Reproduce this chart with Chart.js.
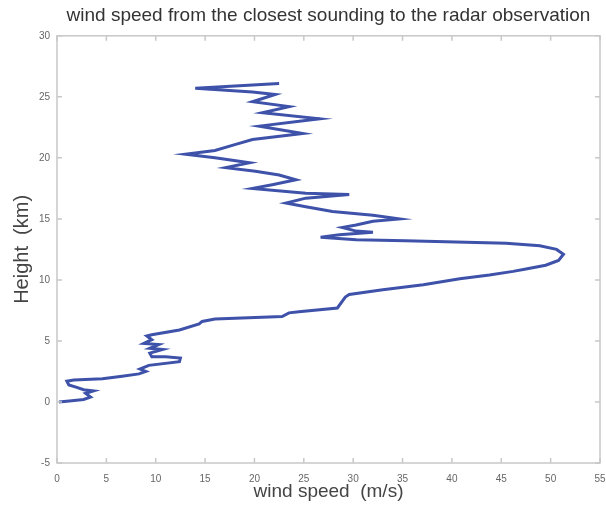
<!DOCTYPE html>
<html>
<head>
<meta charset="utf-8">
<script src="https://cdn.jsdelivr.net/npm/chart.js@4"></script>
<style>
  html, body { margin: 0; padding: 0; background: #fff; }
  #wrap { width: 606px; height: 510px; }
</style>
</head>
<body>
<div id="wrap"><canvas id="profile" width="606" height="510"></canvas></div>
<script>
// sounding profile: wind speed (m/s) against height (km)
const windSpeed = [0.2, 1.5, 2.7, 3.4, 2.9, 3.7, 2.7, 2.0, 1.2, 1.0, 1.7, 4.6, 6.6, 8.3, 9.0, 8.4, 9.3,
  12.4, 12.5, 11.0, 9.6, 9.4, 10.7, 9.4, 10.3, 8.8, 9.6, 9.1, 9.6, 12.4, 14.4, 14.7, 16.0,
  22.8, 23.5, 24.5, 28.4, 29.2, 29.6, 33.0, 37.1, 40.8, 43.8, 46.2, 47.5, 49.5, 50.8, 51.3,
  50.6, 48.9, 45.5, 40.4, 35.3, 30.3, 26.7, 28.6, 32.0, 30.3, 28.9, 30.3, 32.0, 34.7, 32.0,
  27.9, 25.2, 23.2, 25.2, 29.6, 25.2, 19.8, 21.8, 24.2, 22.5, 20.1, 17.1, 19.5, 16.0, 13.0,
  16.0, 18.1, 19.8, 24.9, 20.5, 26.6, 20.8, 23.5, 19.8, 22.1, 19.8, 14.0, 22.5];
const height = [0.0, 0.1, 0.2, 0.4, 0.7, 0.9, 1.0, 1.2, 1.4, 1.7, 1.8, 1.9, 2.1, 2.3, 2.5, 2.7, 3.0,
  3.3, 3.6, 3.7, 3.7, 4.0, 4.3, 4.4, 4.7, 4.8, 5.1, 5.4, 5.5, 5.9, 6.4, 6.6, 6.8,
  7.0, 7.3, 7.4, 7.7, 8.6, 8.8, 9.2, 9.6, 10.1, 10.4, 10.7, 10.9, 11.2, 11.6, 12.1,
  12.5, 12.8, 13.0, 13.1, 13.2, 13.3, 13.5, 13.7, 13.9, 14.0, 14.3, 14.5, 14.8, 15.0, 15.3,
  15.6, 16.0, 16.3, 16.7, 17.0, 17.1, 17.5, 17.8, 18.2, 18.6, 18.9, 19.2, 19.6, 20.0, 20.3,
  20.6, 21.1, 21.5, 22.0, 22.6, 23.2, 23.7, 24.2, 24.6, 25.2, 25.4, 25.7, 26.1];

const xTicks = [0, 5, 10, 15, 20, 25, 30, 35, 40, 45, 50, 55];
const yTicks = [-5, 0, 5, 10, 15, 20, 25, 30];

const points = windSpeed.map((v, i) => ({ x: v, y: height[i] }));

// matlab-like box with inward tick marks, title centred over the axes
const boxPlugin = {
  id: 'box',
  afterLayout(chart) {
    if (chart.titleBlock) {
      chart.titleBlock.left = chart.chartArea.left;
      chart.titleBlock.right = chart.chartArea.right;
    }
  },
  afterDraw(chart) {
    const c = chart.ctx, a = chart.chartArea;
    const xs = chart.scales.x, ys = chart.scales.y;
    c.save();
    c.strokeStyle = '#c8c8c8';
    c.lineWidth = 1.5;
    c.strokeRect(a.left, a.top, a.right - a.left, a.bottom - a.top);
    c.beginPath();
    xTicks.forEach(t => {
      const px = xs.getPixelForValue(t);
      c.moveTo(px, a.bottom); c.lineTo(px, a.bottom - 5);
      c.moveTo(px, a.top); c.lineTo(px, a.top + 5);
    });
    yTicks.forEach(t => {
      const py = ys.getPixelForValue(t);
      c.moveTo(a.left, py); c.lineTo(a.left + 5, py);
      c.moveTo(a.right, py); c.lineTo(a.right - 5, py);
    });
    c.stroke();
    c.restore();
  }
};

Chart.defaults.font.family = '"Liberation Sans", Arial, sans-serif';

new Chart(document.getElementById('profile'), {
  type: 'scatter',
  data: {
    datasets: [{
      data: points,
      showLine: true,
      borderColor: 'rgb(62, 82, 170)',
      borderWidth: 3,
      pointRadius: 0,
      tension: 0
    }]
  },
  options: {
    responsive: false,
    animation: false,
    layout: { padding: { left: 0, right: 6, top: 0, bottom: 0 } },
    plugins: {
      legend: { display: false },
      tooltip: { enabled: false },
      title: {
        display: true,
        text: 'wind speed from the closest sounding to the radar observation',
        color: '#333',
        font: { size: 19, weight: 'normal' },
        padding: { top: 4, bottom: 9 }
      }
    },
    scales: {
      x: {
        type: 'linear',
        min: 0, max: 55,
        afterBuildTicks: s => { s.ticks = xTicks.map(v => ({ value: v })); },
        afterFit: s => { s.height = 47; s.paddingRight = 0; s.paddingLeft = 0; },
        grid: { display: false, drawTicks: false },
        border: { display: false },
        ticks: { color: '#666', font: { size: 10 }, padding: 10 },
        title: { display: true, text: 'wind speed  (m/s)', color: '#444', font: { size: 19 }, padding: { top: 0, bottom: 7 } }
      },
      y: {
        type: 'linear',
        min: -5, max: 30,
        afterBuildTicks: s => { s.ticks = yTicks.map(v => ({ value: v })); },
        afterFit: s => { s.width = 57; s.paddingTop = 0; s.paddingBottom = 0; },
        grid: { display: false, drawTicks: false },
        border: { display: false },
        ticks: { color: '#666', font: { size: 10 }, padding: 7 },
        title: { display: true, text: 'Height  (km)', color: '#444', font: { size: 20 }, padding: { top: 10, bottom: 0 } }
      }
    }
  },
  plugins: [boxPlugin]
});
</script>
</body>
</html>
